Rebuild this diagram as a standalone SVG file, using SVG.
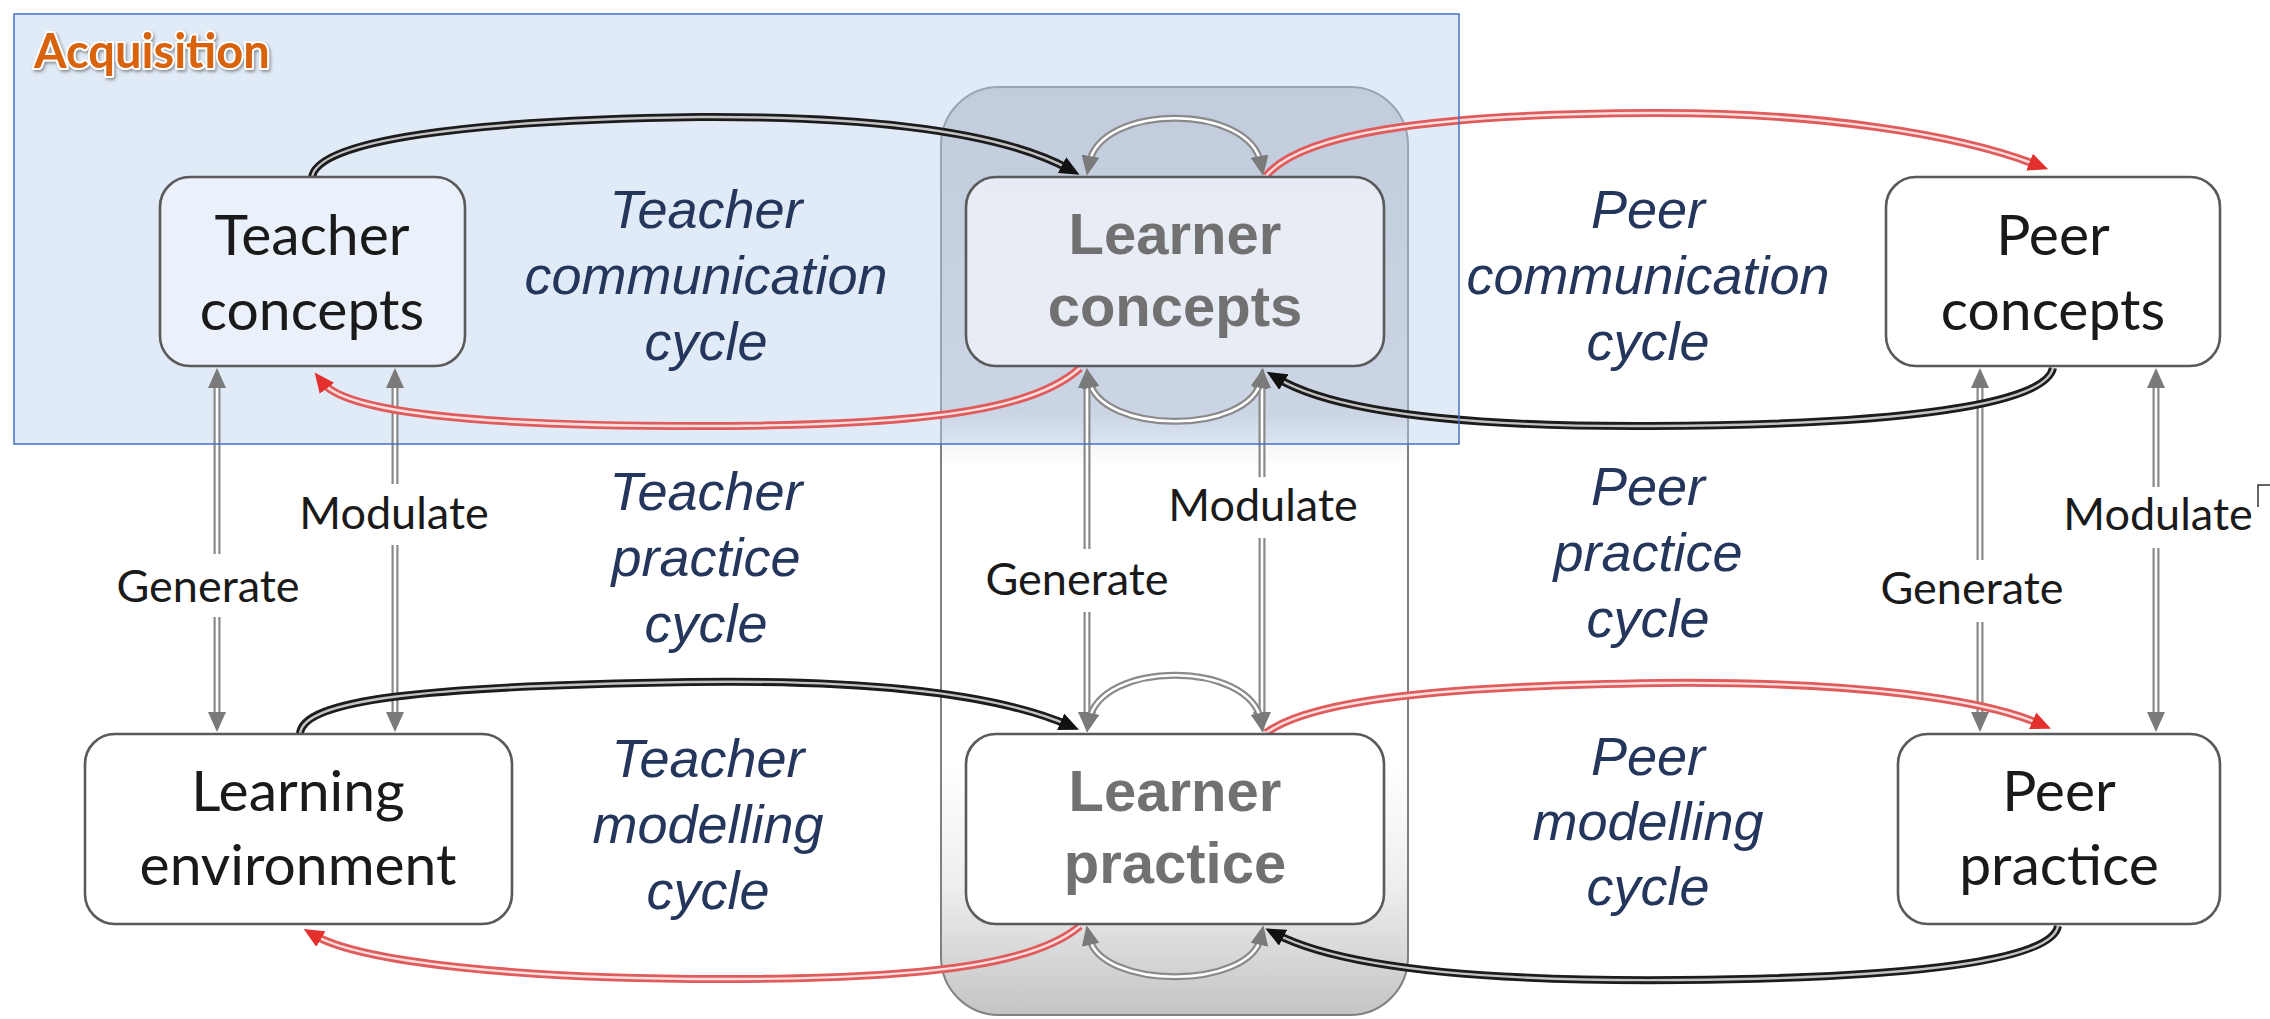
<svg xmlns="http://www.w3.org/2000/svg" width="2270" height="1019" viewBox="0 0 2270 1019">
<style>
.box{fill:#ffffff;stroke:#5a5a5a;stroke-width:2.6}
.nt{font-family:Lato,"Open Sans","Liberation Sans",sans-serif;font-size:57px;fill:#1a1a1a;text-anchor:middle}
.lt{font-family:"Liberation Sans",Arial,sans-serif;font-weight:bold;font-size:58px;fill:#717171;text-anchor:middle}
.cy{font-family:"Liberation Sans",Arial,sans-serif;font-style:italic;font-size:54px;fill:#25365c;text-anchor:middle}
.el{font-family:Lato,"Open Sans","Liberation Sans",sans-serif;font-size:45px;fill:#1a1a1a;text-anchor:middle}
.o{fill:none;stroke-width:8}
.i{fill:none;stroke-width:2.4}
.dko{stroke:#1c1c1c}.dki{stroke:#c4c4c4}
.rdo{stroke:#e05c5c}.rdi{stroke:#fcdede}
.gyo{stroke:#8a8a8a;stroke-width:7}.gyi{stroke:#ffffff;stroke-width:2.6}
</style>
<defs>
<marker id="aB" viewBox="0 0 20 18" markerWidth="20" markerHeight="18" refX="8" refY="9" orient="auto-start-reverse" markerUnits="userSpaceOnUse"><path d="M0,0 L20,9 L0,18 z" fill="#111111"/></marker>
<marker id="aR" viewBox="0 0 20 18" markerWidth="20" markerHeight="18" refX="8" refY="9" orient="auto-start-reverse" markerUnits="userSpaceOnUse"><path d="M0,0 L20,9 L0,18 z" fill="#e3302c"/></marker>
<marker id="aG" viewBox="0 0 20 18" markerWidth="20" markerHeight="18" refX="8" refY="9" orient="auto-start-reverse" markerUnits="userSpaceOnUse"><path d="M0,0 L20,9 L0,18 z" fill="#7a7a7a"/></marker>
<linearGradient id="contG" x1="0" y1="0" x2="0" y2="1">
<stop offset="0" stop-color="#c6c9ce"/>
<stop offset="0.35" stop-color="#d6d8dc"/>
<stop offset="0.385" stop-color="#f6f6f6"/>
<stop offset="0.41" stop-color="#ffffff"/>
<stop offset="0.73" stop-color="#ffffff"/>
<stop offset="0.86" stop-color="#eeeeee"/>
<stop offset="1" stop-color="#c4c4c4"/>
</linearGradient>
<filter id="sh" x="-10%" y="-20%" width="130%" height="150%"><feDropShadow dx="1.5" dy="2" stdDeviation="1.5" flood-color="#555555" flood-opacity="0.6"/></filter>
</defs>
<rect x="0" y="0" width="2270" height="1019" fill="#ffffff"/>

<g id="learner-container">
<rect x="941" y="87" width="467" height="928" rx="58" fill="url(#contG)" stroke="#808080" stroke-width="2"/>
</g>

<rect id="acquisition-area" x="14" y="14" width="1445" height="430" fill="#bcd0ee" fill-opacity="0.45"/>

<g id="connectors">
<path class="o gyo" d="M217,380 V554 M217,617 V720"/><path class="i gyi" d="M217,380 V554 M217,617 V720" marker-start="url(#aG)" marker-end="url(#aG)"/>
<path class="o gyo" d="M395,380 V484 M395,545 V720"/><path class="i gyi" d="M395,380 V484 M395,545 V720" marker-start="url(#aG)" marker-end="url(#aG)"/>
<path class="o gyo" d="M1087,380 V549 M1087,612 V720"/><path class="i gyi" d="M1087,380 V549 M1087,612 V720" marker-start="url(#aG)" marker-end="url(#aG)"/>
<path class="o gyo" d="M1262,380 V477 M1262,538 V720"/><path class="i gyi" d="M1262,380 V477 M1262,538 V720" marker-start="url(#aG)" marker-end="url(#aG)"/>
<path class="o gyo" d="M1980,380 V560 M1980,622 V720"/><path class="i gyi" d="M1980,380 V560 M1980,622 V720" marker-start="url(#aG)" marker-end="url(#aG)"/>
<path class="o gyo" d="M2156,380 V487 M2156,548 V720"/><path class="i gyi" d="M2156,380 V487 M2156,548 V720" marker-start="url(#aG)" marker-end="url(#aG)"/>
<path class="o gyo" d="M1089,164 C1100,103 1250,103 1261,164"/><path class="i gyi" d="M1089,164 C1100,103 1250,103 1261,164" marker-start="url(#aG)" marker-end="url(#aG)"/>
<path class="o gyo" d="M1089,380 C1100,435 1250,435 1261,380"/><path class="i gyi" d="M1089,380 C1100,435 1250,435 1261,380" marker-start="url(#aG)" marker-end="url(#aG)"/>
<path class="o gyo" d="M1089,721 C1100,660 1250,660 1261,721"/><path class="i gyi" d="M1089,721 C1100,660 1250,660 1261,721" marker-start="url(#aG)" marker-end="url(#aG)"/>
<path class="o gyo" d="M1089,937 C1100,990 1250,990 1261,937"/><path class="i gyi" d="M1089,937 C1100,990 1250,990 1261,937" marker-start="url(#aG)" marker-end="url(#aG)"/>
<path class="o dko" d="M312,178 C315,140 470,120 700,117 C900,116 1010,137 1069,169"/>
<path class="i dki" d="M312,178 C315,140 470,120 700,117 C900,116 1010,137 1069,169" marker-end="url(#aB)"/>
<path class="o rdo" d="M1080,368 C1040,405 950,426 700,426 C470,426 345,412 322,382"/>
<path class="i rdi" d="M1080,368 C1040,405 950,426 700,426 C470,426 345,412 322,382" marker-end="url(#aR)"/>
<path class="o rdo" d="M1266,176 C1300,135 1420,114 1650,113 C1820,112 1960,135 2037,165"/>
<path class="i rdi" d="M1266,176 C1300,135 1420,114 1650,113 C1820,112 1960,135 2037,165" marker-end="url(#aR)"/>
<path class="o dko" d="M2053,368 C2045,405 1900,425 1650,426 C1450,427 1330,410 1277,378"/>
<path class="i dki" d="M2053,368 C2045,405 1900,425 1650,426 C1450,427 1330,410 1277,378" marker-end="url(#aB)"/>
<path class="o dko" d="M300,734 C302,700 420,686 690,682 C900,679 1010,700 1068,725"/>
<path class="i dki" d="M300,734 C302,700 420,686 690,682 C900,679 1010,700 1068,725" marker-end="url(#aB)"/>
<path class="o rdo" d="M1080,926 C1040,960 950,978 740,979 C520,980 360,962 314,935"/>
<path class="i rdi" d="M1080,926 C1040,960 950,978 740,979 C520,980 360,962 314,935" marker-end="url(#aR)"/>
<path class="o rdo" d="M1266,733 C1310,700 1440,686 1660,683 C1860,681 1985,700 2040,724"/>
<path class="i rdi" d="M1266,733 C1310,700 1440,686 1660,683 C1860,681 1985,700 2040,724" marker-end="url(#aR)"/>
<path class="o dko" d="M2058,926 C2052,960 1920,978 1680,980 C1450,982 1330,962 1276,934"/>
<path class="i dki" d="M2058,926 C2052,960 1920,978 1680,980 C1450,982 1330,962 1276,934" marker-end="url(#aB)"/>
</g>

<g id="edge-labels">
<text class="el" x="394" y="529">Modulate</text>
<text class="el" x="208" y="602">Generate</text>
<text class="el" x="1263" y="521">Modulate</text>
<text class="el" x="1077" y="595">Generate</text>
<text class="el" x="2158" y="530">Modulate</text>
<text class="el" x="1972" y="604">Generate</text>
<path d="M2270,485 H2258 V507" fill="none" stroke="#333333" stroke-width="1.5"/>
</g>

<g id="teacher-concepts"><rect class="box" x="160" y="177" width="305" height="189" rx="30" style="fill:#ffffff;fill-opacity:0.35"/><text class="nt" x="312" y="255">Teacher</text><text class="nt" x="312" y="330">concepts</text></g>
<g id="learner-concepts"><rect class="box" x="966" y="177" width="418" height="189" rx="30" style="fill:#edf1f8;fill-opacity:0.85"/><text class="lt" x="1175" y="254">Learner</text><text class="lt" x="1175" y="326">concepts</text></g>
<g id="peer-concepts"><rect class="box" x="1886" y="177" width="334" height="189" rx="30"/><text class="nt" x="2053" y="255">Peer</text><text class="nt" x="2053" y="330">concepts</text></g>
<g id="learning-environment"><rect class="box" x="85" y="734" width="427" height="190" rx="30"/><text class="nt" x="298" y="811">Learning</text><text class="nt" x="298" y="885">environment</text></g>
<g id="learner-practice"><rect class="box" x="966" y="734" width="418" height="190" rx="30"/><text class="lt" x="1175" y="811">Learner</text><text class="lt" x="1175" y="883">practice</text></g>
<g id="peer-practice"><rect class="box" x="1898" y="734" width="322" height="190" rx="30"/><text class="nt" x="2059" y="811">Peer</text><text class="nt" x="2059" y="885">practice</text></g>

<g id="cycle-labels">
<g id="teacher-communication-cycle"><text class="cy" x="706" y="228">Teacher</text><text class="cy" x="706" y="294">communication</text><text class="cy" x="706" y="360">cycle</text></g>
<g id="peer-communication-cycle"><text class="cy" x="1648" y="228">Peer</text><text class="cy" x="1648" y="294">communication</text><text class="cy" x="1648" y="360">cycle</text></g>
<g id="teacher-practice-cycle"><text class="cy" x="706" y="510">Teacher</text><text class="cy" x="706" y="576">practice</text><text class="cy" x="706" y="642">cycle</text></g>
<g id="peer-practice-cycle"><text class="cy" x="1648" y="505">Peer</text><text class="cy" x="1648" y="571">practice</text><text class="cy" x="1648" y="637">cycle</text></g>
<g id="teacher-modelling-cycle"><text class="cy" x="708" y="777">Teacher</text><text class="cy" x="708" y="843">modelling</text><text class="cy" x="708" y="909">cycle</text></g>
<g id="peer-modelling-cycle"><text class="cy" x="1648" y="775">Peer</text><text class="cy" x="1648" y="840">modelling</text><text class="cy" x="1648" y="905">cycle</text></g>
</g>

<g id="acquisition">
<rect x="14" y="14" width="1445" height="430" fill="none" stroke="#4472c4" stroke-width="1.5"/>
<text x="34" y="68" filter="url(#sh)" font-family="Lato,'Open Sans',sans-serif" font-weight="bold" font-size="47" fill="#d9620c" stroke="#ffffff" stroke-width="4" paint-order="stroke" stroke-linejoin="round">Acquisition</text>
</g>
</svg>
